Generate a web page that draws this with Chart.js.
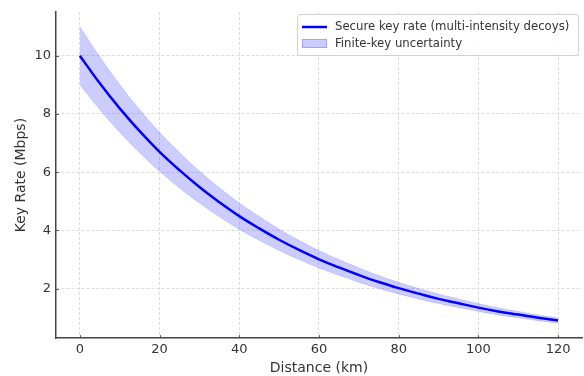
<!DOCTYPE html>
<html>
<head>
<meta charset="utf-8">
<script src="https://cdn.jsdelivr.net/npm/chart.js@4/dist/chart.umd.min.js"></script>
<style>
  html, body { margin: 0; padding: 0; background: #fff; }
  #wrap { width: 584px; height: 376px; }
</style>
</head>
<body>
<div id="wrap"><canvas id="rate-chart" width="584" height="376"></canvas></div>
<script>
const distances = [0, 5, 10, 15, 20, 25, 30, 35, 40, 45, 50, 55, 60, 65, 70, 75, 80, 85, 90, 95, 100, 105, 110, 115, 120];
const keyRate = [10.0, 9.05, 8.19, 7.41, 6.70, 6.07, 5.49, 4.97, 4.49, 4.07, 3.68, 3.33, 3.01, 2.73, 2.47, 2.23, 2.02, 1.83, 1.65, 1.50, 1.35, 1.22, 1.11, 1.00, 0.91];
const upperBound = [11.0, 9.96, 9.01, 8.15, 7.37, 6.68, 6.04, 5.47, 4.94, 4.48, 4.05, 3.66, 3.31, 3.00, 2.72, 2.45, 2.22, 2.01, 1.82, 1.65, 1.49, 1.34, 1.22, 1.10, 1.00];
const lowerBound = [9.0, 8.15, 7.37, 6.67, 6.03, 5.46, 4.94, 4.47, 4.04, 3.66, 3.31, 3.00, 2.71, 2.46, 2.22, 2.01, 1.82, 1.65, 1.49, 1.35, 1.22, 1.10, 1.00, 0.90, 0.82];
const xTicks = [0, 20, 40, 60, 80, 100, 120];
const yTicks = [2, 4, 6, 8, 10];
const seriesLabels = ['Secure key rate (multi-intensity decoys)', 'Finite-key uncertainty'];

const toPoints = (ys) => distances.map((d, i) => ({ x: d, y: ys[i] }));
const textColor = '#333333';
const tickFont = { family: 'DejaVu Sans', size: 13, lineHeight: 0.8 };
const titleFont = { family: 'DejaVu Sans', size: 14, lineHeight: 1.1 };

// small inward tick marks + legend inside the plot, matplotlib style
const extras = {
  id: 'extras',
  afterDraw(chart) {
    const ctx = chart.ctx;
    const area = chart.chartArea;
    const xs = chart.scales.x, ys = chart.scales.y;
    ctx.save();
    ctx.strokeStyle = '#555555';
    ctx.lineWidth = 1;
    xTicks.forEach(v => {
      const px = Math.round(xs.getPixelForValue(v)) + 0.5;
      ctx.beginPath();
      ctx.moveTo(px, area.bottom);
      ctx.lineTo(px, area.bottom - 3);
      ctx.stroke();
    });
    yTicks.forEach(v => {
      const py = Math.round(ys.getPixelForValue(v)) + 0.5;
      ctx.beginPath();
      ctx.moveTo(area.left, py);
      ctx.lineTo(area.left + 3, py);
      ctx.stroke();
    });

    ctx.font = '11.7px DejaVu Sans';
    const w = 281, h = 41;
    const x = 297, y = 14;
    ctx.fillStyle = 'rgba(255,255,255,0.85)';
    ctx.strokeStyle = '#d0d0d0';
    ctx.beginPath();
    ctx.roundRect(x + 0.5, y + 0.5, w, h, 3);
    ctx.fill();
    ctx.stroke();

    ctx.strokeStyle = '#0000ff';
    ctx.lineWidth = 2.5;
    ctx.beginPath();
    ctx.moveTo(x + 5, y + 13);
    ctx.lineTo(x + 30, y + 13);
    ctx.stroke();

    ctx.fillStyle = 'rgba(0,0,255,0.2)';
    ctx.strokeStyle = 'rgba(0,0,255,0.2)';
    ctx.lineWidth = 1;
    ctx.fillRect(x + 5, y + 25, 25, 9);
    ctx.strokeRect(x + 5.5, y + 25.5, 24, 8);

    ctx.fillStyle = textColor;
    ctx.textBaseline = 'middle';
    ctx.fillText(seriesLabels[0], x + 38, y + 13);
    ctx.fillText(seriesLabels[1], x + 38, y + 30);
    ctx.restore();
  }
};

const ctx = document.getElementById('rate-chart').getContext('2d');
new Chart(ctx, {
  type: 'line',
  data: {
    datasets: [
      {
        label: seriesLabels[0],
        data: toPoints(keyRate),
        borderColor: '#0000ff',
        borderWidth: 2.5,
        pointRadius: 0,
        tension: 0.4,
        fill: false,
        order: 0
      },
      {
        label: seriesLabels[1],
        data: toPoints(upperBound),
        borderColor: 'rgba(0,0,255,0.12)',
        backgroundColor: 'rgba(0,0,255,0.2)',
        borderWidth: 1,
        pointRadius: 0,
        tension: 0.4,
        fill: '+1',
        order: 1
      },
      {
        label: 'lower',
        data: toPoints(lowerBound),
        borderColor: 'rgba(0,0,255,0.12)',
        borderWidth: 1,
        pointRadius: 0,
        tension: 0.4,
        fill: false,
        order: 2
      }
    ]
  },
  options: {
    responsive: false,
    animation: false,
    layout: { padding: { left: 8, right: 2, top: 12, bottom: 0 } },
    plugins: {
      legend: { display: false },
      tooltip: { enabled: false }
    },
    scales: {
      x: {
        type: 'linear',
        min: -6,
        max: 126,
        afterBuildTicks: (axis) => { axis.ticks = xTicks.map(v => ({ value: v })); },
        ticks: { color: textColor, font: tickFont, padding: 6, maxRotation: 0 },
        grid: { color: '#dcdcdc', drawTicks: false },
        border: { display: true, color: '#444444', width: 1.5, dash: [3, 2] },
        title: { display: true, text: 'Distance (km)', color: textColor, font: titleFont, padding: { top: 0, bottom: 0 } }
      },
      y: {
        type: 'linear',
        min: 0.3,
        max: 11.5,
        afterBuildTicks: (axis) => { axis.ticks = yTicks.map(v => ({ value: v })); },
        ticks: { color: textColor, font: tickFont, padding: 5 },
        grid: { color: '#dcdcdc', drawTicks: false },
        border: { display: true, color: '#444444', width: 1.5, dash: [3, 2] },
        title: { display: true, text: 'Key Rate (Mbps)', color: textColor, font: titleFont, padding: { top: 6, bottom: 0 } }
      }
    }
  },
  plugins: [extras]
});
</script>
</body>
</html>
